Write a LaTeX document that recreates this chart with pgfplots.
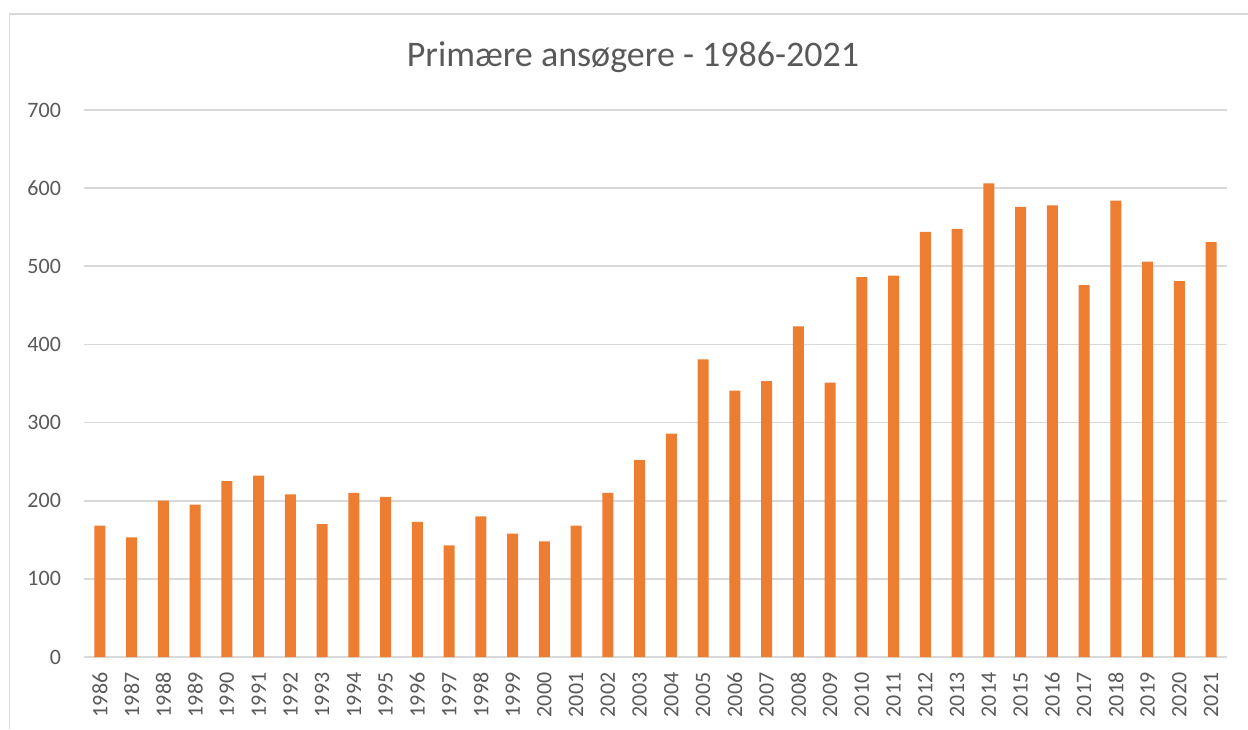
\documentclass[border=0pt]{standalone}
\usepackage{pgfplots}
\pgfplotsset{compat=1.18}
\usepackage{fontspec}
\setmainfont{Carlito}
\definecolor{barc}{HTML}{ED7D31}
\definecolor{txt}{HTML}{595959}
\definecolor{gridc}{HTML}{D9D9D9}
\begin{document}
\begin{tikzpicture}[x=1pt,y=1pt]
\useasboundingbox (0,0) rectangle (624,364.5);
\draw[gridc, line width=0.8pt] (4.75,0) -- (4.75,357.5) -- (624,357.5);
\node[txt, font=\fontsize{18}{20}\selectfont] at (316.5,336) {Primære ansøgere - 1986-2021};
\begin{axis}[
  at={(42pt,36pt)}, anchor=south west, scale only axis,
  width=571.5pt, height=273.5pt,
  ymin=0, ymax=700, xmin=-0.5, xmax=35.5,
  ytick={0,100,...,700},
  xtick={0,...,35},
  xticklabels={1986,1987,1988,1989,1990,1991,1992,1993,1994,1995,1996,1997,1998,1999,2000,2001,2002,2003,2004,2005,2006,2007,2008,2009,2010,2011,2012,2013,2014,2015,2016,2017,2018,2019,2020,2021},
  axis x line*=bottom, axis y line*=left,
  x axis line style={gridc, line width=0.8pt, -},
  y axis line style={draw=none},
  tick style={draw=none},
  ymajorgrids, grid style={gridc, line width=0.8pt},
  /pgf/number format/assume math mode=true,
  /pgf/number format/1000 sep={},
  yticklabel style={txt, font=\fontsize{11}{13}\selectfont, xshift=-8pt},
  xticklabel style={txt, font=\fontsize{11}{13}\selectfont, rotate=90, anchor=east, yshift=0pt},
  ybar, bar width=5.5pt,
]
\addplot[fill=barc, draw=none, bar shift=0pt] coordinates {
(0,168) (1,153) (2,200) (3,195) (4,225) (5,232) (6,208) (7,170) (8,210) (9,205)
(10,173) (11,143) (12,180) (13,158) (14,148) (15,168) (16,210) (17,252) (18,286) (19,381)
(20,341) (21,353) (22,423) (23,351) (24,486) (25,488) (26,544) (27,548) (28,606) (29,576)
(30,578) (31,476) (32,584) (33,506) (34,481) (35,531)
};
\end{axis}
\end{tikzpicture}
\end{document}
